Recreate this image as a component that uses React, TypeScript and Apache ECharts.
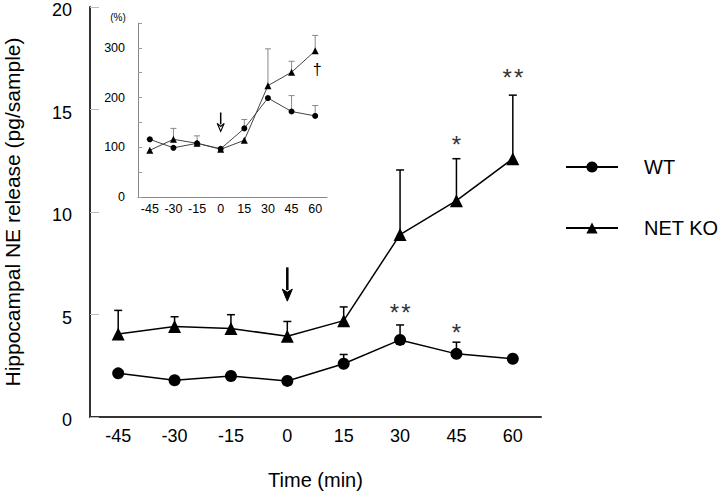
import React, { useEffect, useRef } from "react";
import * as echarts from "echarts";

const FONT = "'Liberation Sans', Arial, Helvetica, sans-serif";

// time points (min)
const categories = ["-45", "-30", "-15", "0", "15", "30", "45", "60"];

// main panel: hippocampal NE release (pg/sample)
const wtMain = [2.13, 1.79, 2.0, 1.76, 2.6, 3.76, 3.08, 2.84];
const wtMainSem = [0, 0, 0, 0, 0.45, 0.73, 0.57, 0];
const koMain = [4.05, 4.42, 4.32, 3.94, 4.7, 8.9, 10.55, 12.6];
const koMainSem = [1.15, 0.47, 0.67, 0.72, 0.67, 3.15, 2.05, 3.1];

// inset: % of baseline
const wtInset = [116, 99, 108, 97, 138, 199, 172, 163];
const wtInsetSem = [0, 0, 0, 0, 18, 0, 32, 21];
const koInset = [94, 116, 108, 96, 114, 224, 251, 294];
const koInsetSem = [0, 22, 15, 0, 0, 74, 22, 31];

// significance marks: [category index, y value, number of stars]
const mainStars = [
  [5, 5.33, 2],
  [6, 4.36, 1],
  [6, 13.56, 1],
  [7, 16.8, 2],
];
// dagger in inset: [category index, y value]
const insetDagger = [[7, 256]];
// drug application arrows: [category index, from value, to value]
const mainArrow = [[3, 7.3, 5.65]];
const insetArrow = [[3, 170, 132]];

const mainTicks = { min: 0, max: 20, interval: 5 };
const insetTicks = { min: 0, max: 350, interval: 50 };

function errData(mean: number[], sem: number[]) {
  const out: number[][] = [];
  mean.forEach((m, i) => {
    if (sem[i] > 0) out.push([i, m, m + sem[i]]);
  });
  return out;
}

function errRender(color: string, width: number, cap: number) {
  return (params: any, api: any) => {
    const x = api.value(0);
    const p0 = api.coord([x, api.value(1)]);
    const p1 = api.coord([x, api.value(2)]);
    return {
      type: "group",
      children: [
        {
          type: "line",
          shape: { x1: p0[0], y1: p0[1], x2: p1[0], y2: p1[1] },
          style: { stroke: color, lineWidth: width },
        },
        {
          type: "line",
          shape: { x1: p1[0] - cap, y1: p1[1], x2: p1[0] + cap, y2: p1[1] },
          style: { stroke: color, lineWidth: width },
        },
      ],
    };
  };
}

function arrowRender(width: number, headW: number, headH: number, hollow: boolean) {
  return (params: any, api: any) => {
    const x = api.value(0);
    const p0 = api.coord([x, api.value(1)]);
    const p1 = api.coord([x, api.value(2)]);
    return {
      type: "group",
      children: [
        {
          type: "line",
          shape: { x1: p0[0], y1: p0[1], x2: p1[0], y2: p1[1] - headH + 1 },
          style: { stroke: "#000", lineWidth: width },
        },
        {
          type: "polygon",
          shape: {
            points: [
              [p1[0] - headW / 2, p1[1] - headH],
              [p1[0], p1[1] - headH + 3],
              [p1[0] + headW / 2, p1[1] - headH],
              [p1[0], p1[1]],
            ],
          },
          style: hollow
            ? { fill: "#fff", stroke: "#000", lineWidth: 1.2 }
            : { fill: "#000", stroke: "#000", lineWidth: 1 },
        },
      ],
    };
  };
}

export default function App() {
  const ref = useRef<HTMLDivElement>(null);

  useEffect(() => {
    if (!ref.current) return;
    const chart = echarts.init(ref.current, undefined, { renderer: "svg" });

    const option: any = {
      animation: false,
      backgroundColor: "#fff",
      textStyle: { fontFamily: FONT, color: "#000" },
      grid: [
        { left: 90, top: 7, width: 451, height: 410, outerBoundsMode: "none", containLabel: false },
        { left: 138, top: 23, width: 189, height: 174, outerBoundsMode: "none", containLabel: false },
      ],
      legend: {
        data: ["WT", "NET KO"],
        orient: "vertical",
        left: 560,
        top: 152,
        padding: 5,
        itemWidth: 52,
        itemHeight: 14,
        itemGap: 41,
        selectedMode: false,
        textStyle: {
          fontSize: 20,
          fontFamily: FONT,
          color: "#000",
          lineHeight: 20,
          padding: [0, 0, 0, 21],
        },
      },
      xAxis: [
        {
          type: "category",
          gridIndex: 0,
          data: categories,
          boundaryGap: true,
          axisLine: { lineStyle: { color: "#333", width: 2 } },
          axisTick: {
            inside: true,
            alignWithLabel: true,
            length: 9,
            lineStyle: { color: "#bbb", width: 1 },
          },
          axisLabel: { fontSize: 18, color: "#000", margin: 10, fontFamily: FONT },
          name: "Time (min)",
          nameLocation: "middle",
          nameGap: 53,
          nameTextStyle: { fontSize: 20, color: "#000", fontFamily: FONT },
        },
        {
          type: "category",
          gridIndex: 1,
          data: categories,
          boundaryGap: true,
          axisLine: { lineStyle: { color: "#888", width: 1 } },
          axisTick: { show: false },
          axisLabel: { fontSize: 12.5, color: "#000", margin: 5, fontFamily: FONT },
        },
      ],
      yAxis: [
        {
          type: "value",
          gridIndex: 0,
          ...mainTicks,
          axisLine: { show: true, lineStyle: { color: "#333", width: 2 } },
          axisTick: {
            show: true,
            inside: true,
            length: 9,
            lineStyle: { color: "#bbb", width: 1 },
          },
          splitLine: { show: false },
          axisLabel: {
            fontSize: 18,
            color: "#000",
            margin: 18,
            fontFamily: FONT,
            formatter: (v: number) => `{v|${v}}`,
            rich: {
              v: { fontSize: 18, fontFamily: FONT, color: "#000", padding: [6, 0, 0, 0] },
            },
          },
          name: "Hippocampal NE release (pg/sample)",
          nameLocation: "middle",
          nameGap: 67,
          nameTextStyle: { fontSize: 21, color: "#000", fontFamily: FONT },
        },
        {
          type: "value",
          gridIndex: 1,
          ...insetTicks,
          axisLine: { show: true, lineStyle: { color: "#888", width: 1 } },
          axisTick: {
            show: true,
            inside: true,
            length: 4,
            lineStyle: { color: "#999", width: 1 },
          },
          splitLine: { show: false },
          axisLabel: {
            fontSize: 12.5,
            color: "#000",
            margin: 13,
            fontFamily: FONT,
            formatter: (v: number) => (v % 100 === 0 ? String(v) : ""),
          },
        },
      ],
      graphic: [
        {
          type: "text",
          x: 118,
          y: 17,
          style: {
            text: "(%)",
            fontSize: 10,
            fontFamily: FONT,
            fill: "#000",
            align: "center",
            verticalAlign: "middle",
          },
        },
      ],
      series: [
        {
          name: "WT err",
          type: "custom",
          xAxisIndex: 0,
          yAxisIndex: 0,
          data: errData(wtMain, wtMainSem),
          renderItem: errRender("#000", 1.5, 4),
          encode: { x: 0, y: [1, 2] },
          z: 2,
          silent: true,
        },
        {
          name: "NET KO err",
          type: "custom",
          xAxisIndex: 0,
          yAxisIndex: 0,
          data: errData(koMain, koMainSem),
          renderItem: errRender("#000", 1.5, 4),
          encode: { x: 0, y: [1, 2] },
          z: 2,
          silent: true,
        },
        {
          name: "WT",
          type: "line",
          xAxisIndex: 0,
          yAxisIndex: 0,
          data: wtMain,
          symbol: "circle",
          symbolSize: 12,
          itemStyle: { color: "#000" },
          lineStyle: { color: "#000", width: 1.5 },
          z: 3,
          silent: true,
        },
        {
          name: "NET KO",
          type: "line",
          xAxisIndex: 0,
          yAxisIndex: 0,
          data: koMain,
          symbol: "triangle",
          symbolSize: 13,
          itemStyle: { color: "#000" },
          lineStyle: { color: "#000", width: 1.5 },
          z: 3,
          silent: true,
        },
        {
          name: "stars",
          type: "custom",
          xAxisIndex: 0,
          yAxisIndex: 0,
          data: mainStars,
          encode: { x: 0, y: 1 },
          silent: true,
          renderItem: (params: any, api: any) => {
            const p = api.coord([api.value(0), api.value(1)]);
            const n = api.value(2);
            const children: any[] = [];
            for (let k = 0; k < n; k++) {
              const dx = (k - (n - 1) / 2) * 11.5;
              children.push({
                type: "text",
                x: p[0] + dx,
                y: p[1] + 5,
                style: {
                  text: "*",
                  fontSize: 24,
                  fontFamily: FONT,
                  fill: "#333",
                  align: "center",
                  verticalAlign: "middle",
                },
              });
            }
            return { type: "group", children };
          },
        },
        {
          name: "arrow",
          type: "custom",
          xAxisIndex: 0,
          yAxisIndex: 0,
          data: mainArrow,
          encode: { x: 0, y: [1, 2] },
          silent: true,
          renderItem: arrowRender(2.5, 10, 12, false),
        },
        {
          name: "WT % err",
          type: "custom",
          xAxisIndex: 1,
          yAxisIndex: 1,
          data: errData(wtInset, wtInsetSem),
          renderItem: errRender("#888", 1, 3),
          encode: { x: 0, y: [1, 2] },
          z: 2,
          silent: true,
        },
        {
          name: "NET KO % err",
          type: "custom",
          xAxisIndex: 1,
          yAxisIndex: 1,
          data: errData(koInset, koInsetSem),
          renderItem: errRender("#888", 1, 3),
          encode: { x: 0, y: [1, 2] },
          z: 2,
          silent: true,
        },
        {
          name: "WT %",
          type: "line",
          xAxisIndex: 1,
          yAxisIndex: 1,
          data: wtInset,
          symbol: "circle",
          symbolSize: 6,
          itemStyle: { color: "#000" },
          lineStyle: { color: "#444", width: 1 },
          z: 3,
          silent: true,
        },
        {
          name: "NET KO %",
          type: "line",
          xAxisIndex: 1,
          yAxisIndex: 1,
          data: koInset,
          symbol: "triangle",
          symbolSize: 7,
          itemStyle: { color: "#000" },
          lineStyle: { color: "#444", width: 1 },
          z: 3,
          silent: true,
        },
        {
          name: "dagger",
          type: "custom",
          xAxisIndex: 1,
          yAxisIndex: 1,
          data: insetDagger,
          encode: { x: 0, y: 1 },
          silent: true,
          renderItem: (params: any, api: any) => {
            const p = api.coord([api.value(0), api.value(1)]);
            return {
              type: "text",
              x: p[0] + 2,
              y: p[1],
              style: {
                text: "†",
                fontSize: 16,
                fontFamily: FONT,
                fill: "#000",
                align: "center",
                verticalAlign: "middle",
              },
            };
          },
        },
        {
          name: "inset arrow",
          type: "custom",
          xAxisIndex: 1,
          yAxisIndex: 1,
          data: insetArrow,
          encode: { x: 0, y: [1, 2] },
          silent: true,
          renderItem: arrowRender(1.5, 7, 8, true),
        },
      ],
    };

    chart.setOption(option);
    return () => chart.dispose();
  }, []);

  return (
    <div
      ref={ref}
      style={{ position: "fixed", left: 0, top: 0, width: 720, height: 492, background: "#fff" }}
    />
  );
}
